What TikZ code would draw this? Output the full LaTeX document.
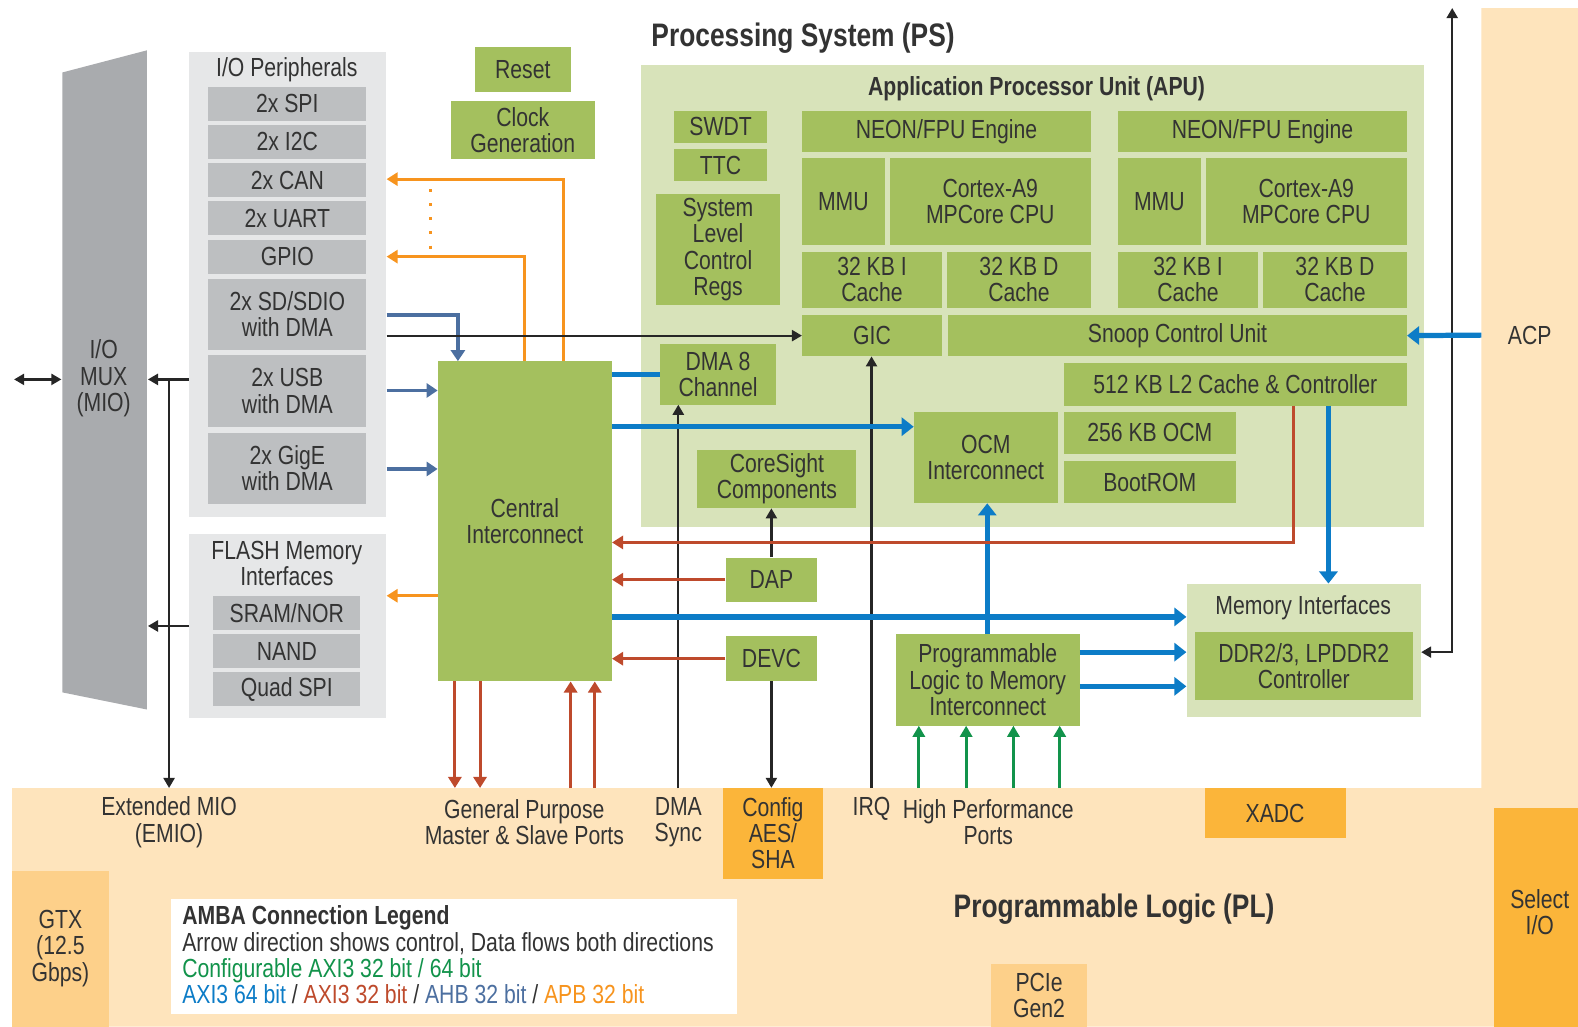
\documentclass[tikz,border=0pt]{standalone}
\usepackage{fontspec}
\setmainfont{Liberation Sans}[FakeStretch=0.81]
\usetikzlibrary{arrows.meta}
\definecolor{grn}{HTML}{A4C05E}
\definecolor{apubg}{HTML}{D8E3BA}
\definecolor{plbg}{HTML}{FEE4BC}
\definecolor{orS}{HTML}{FBB53A}
\definecolor{orL}{HTML}{FDD08A}
\definecolor{gryL}{HTML}{E6E7E8}
\definecolor{gryD}{HTML}{BDBFC1}
\definecolor{muxc}{HTML}{A9ABAE}
\definecolor{txt}{HTML}{333333}
\definecolor{axiB}{HTML}{0C7CC7}
\definecolor{axiR}{HTML}{BE4A2C}
\definecolor{ahb}{HTML}{4C6FA0}
\definecolor{apb}{HTML}{F7941E}
\definecolor{hpg}{HTML}{12934B}
\newcommand{\bodyfont}{\fontsize{37}{37}\selectfont}
\newcommand{\legfont}{\fontsize{37}{37}\selectfont}
\newcommand{\bigtitle}{\fontsize{46}{48}\selectfont\bfseries}
\newcommand{\midtitle}{\fontsize{37}{37}\selectfont\bfseries}
% \bx{style}{name}{x1}{y1}{x2}{y2}{text}
\newcommand{\bx}[7]{\node[#1,minimum width={(#5-#3)*0.5mm},minimum height={(#6-#4)*0.5mm}] (#2) at ({(#3+#5)/2},{(#4+#6)/2}) {#7};}
\begin{document}
\begin{tikzpicture}[x=0.5mm,y=-0.5mm,
  every node/.style={inner sep=0pt,text=txt,font=\bodyfont,align=center},
  gbox/.style={fill=grn},
  dbox/.style={fill=gryD},
  blu/.style={draw=axiB,line width=2.6mm,-{Triangle[length=6mm,width=9mm]}},
  blk/.style={draw=black!85,line width=1.1mm,-{Triangle[length=5mm,width=5.5mm]}},
  rd/.style={draw=axiR,line width=1.5mm,-{Triangle[length=5.5mm,width=6.5mm]}},
  ahbA/.style={draw=ahb,line width=1.7mm,-{Triangle[length=5.5mm,width=7mm]}},
  apbA/.style={draw=apb,line width=1.4mm,-{Triangle[length=5.5mm,width=6.5mm]}},
  hpA/.style={draw=hpg,line width=1.4mm,-{Triangle[length=5.5mm,width=6mm]}},
]
\useasboundingbox (0,0) rectangle (1568,1020);
% PL background
\fill[plbg] (12,783) -- (1472,783) -- (1472,8) -- (1568,8) -- (1568,1020) -- (12,1020) -- cycle;
\coordinate (pledge) at (0,783);
% titles
\node[font=\bigtitle] (pstitle) at (798,38) {Processing System (PS)};
\node[font=\bigtitle] (pltitle) at (1107,903) {Programmable Logic (PL)};
% I/O MUX
\fill[muxc] (62,72) -- (146,50) -- (146,705) -- (62,688) -- cycle;
\node (muxt) at (103,376) {I/O\\MUX\\(MIO)};
\coordinate (muxW) at (61,377);
\coordinate (muxE) at (147,377);
\coordinate (muxE2) at (147,622);
\coordinate (extL) at (14,377);
% I/O peripherals
\bx{fill=gryL}{iop}{188}{52}{384}{514}{}
\node (ioptitle) at (285,69) {I/O Peripherals};
\bx{dbox}{spi}{207}{86}{364}{120}{2x SPI}
\bx{dbox}{i2c}{207}{124}{364}{158}{2x I2C}
\bx{dbox}{can}{207}{162}{364}{196}{2x CAN}
\bx{dbox}{uart}{207}{200}{364}{234}{2x UART}
\bx{dbox}{gpio}{207}{238}{364}{272}{GPIO}
\bx{dbox}{sd}{207}{277}{364}{348}{2x SD/SDIO\\with DMA}
\bx{dbox}{usb}{207}{353}{364}{424}{2x USB\\with DMA}
\bx{dbox}{gige}{207}{430}{364}{501}{2x GigE\\with DMA}
% Flash
\bx{fill=gryL}{flash}{188}{531}{384}{713}{}
\node (flasht) at (285,560) {FLASH Memory\\Interfaces};
\bx{dbox}{sram}{212}{592}{358}{626}{SRAM/NOR}
\bx{dbox}{nand}{212}{630}{358}{664}{NAND}
\bx{dbox}{qspi}{212}{668}{358}{702}{Quad SPI}
% Reset / clock
\bx{gbox}{reset}{472}{47}{567}{91}{Reset}
\bx{gbox}{clk}{448}{100}{591}{158}{Clock\\Generation}
% APU
\bx{fill=apubg}{apu}{637}{65}{1415}{524}{}
\node[font=\midtitle] (aputitle) at (1030,88) {Application Processor Unit (APU)};
\bx{gbox}{swdt}{670}{110}{762}{142}{SWDT}
\bx{gbox}{ttc}{670}{148}{762}{180}{TTC}
\bx{gbox}{slcr}{652}{193}{775}{303}{System\\Level\\Control\\Regs}
\bx{gbox}{neon0}{797}{110}{1084}{151}{NEON/FPU Engine}
\bx{gbox}{mmu0}{797}{157}{879}{243}{MMU}
\bx{gbox}{cpu0}{884}{157}{1084}{243}{Cortex-A9\\MPCore CPU}
\bx{gbox}{ic0}{797}{250}{936}{306}{32 KB I\\Cache}
\bx{gbox}{dc0}{941}{250}{1084}{306}{32 KB D\\Cache}
\bx{gbox}{neon1}{1111}{110}{1398}{151}{NEON/FPU Engine}
\bx{gbox}{mmu1}{1111}{157}{1193}{243}{MMU}
\bx{gbox}{cpu1}{1198}{157}{1398}{243}{Cortex-A9\\MPCore CPU}
\bx{gbox}{ic1}{1111}{250}{1250}{306}{32 KB I\\Cache}
\bx{gbox}{dc1}{1255}{250}{1398}{306}{32 KB D\\Cache}
\bx{gbox}{gic}{797}{313}{936}{354}{GIC}
\bx{gbox}{scu}{942}{313}{1398}{354}{Snoop Control Unit}
\bx{gbox}{l2}{1057}{361}{1398}{403}{512 KB L2 Cache \& Controller}
\bx{gbox}{ocmi}{908}{409}{1051}{500}{OCM\\Interconnect}
\bx{gbox}{ocm}{1057}{409}{1228}{451}{256 KB OCM}
\bx{gbox}{brom}{1057}{458}{1228}{500}{BootROM}
\bx{gbox}{dma}{656}{342}{771}{402}{DMA 8\\Channel}
\bx{gbox}{cs}{693}{447}{851}{505}{CoreSight\\Components}
% Central interconnect etc.
\bx{gbox}{ci}{435}{359}{608}{677}{Central\\Interconnect}
\bx{gbox}{dap}{721}{554}{812}{598}{DAP}
\bx{gbox}{devc}{721}{632}{812}{677}{DEVC}
\bx{gbox}{plm}{890}{630}{1073}{721}{Programmable\\Logic to Memory\\Interconnect}
\bx{fill=apubg}{memi}{1179}{580}{1412}{712}{}
\node (memit) at (1295,604) {Memory Interfaces};
\bx{gbox}{ddr}{1187}{628}{1404}{696}{DDR2/3, LPDDR2\\Controller}
% PL blocks
\bx{fill=orL}{gtx}{12}{865}{108}{1020}{GTX\\(12.5\\Gbps)}
\bx{fill=orS}{cfg}{718}{783}{818}{873}{Config\\AES/\\SHA}
\bx{fill=orS}{xadc}{1197}{783}{1337}{833}{XADC}
\bx{fill=orS}{sio}{1485}{803}{1568}{1020}{}
\node (siot) at (1530,906) {Select\\I/O};
\bx{fill=orL}{pcie}{985}{958}{1080}{1020}{PCIe\\Gen2}
% labels
\node (emio) at (168,817) {Extended MIO\\(EMIO)};
\node (gpl) at (521,817) {General Purpose\\Master \& Slave Ports};
\node (dmas) at (674,817) {DMA\\Sync};
\node (irq) at (866,804) {IRQ};
\node (hpp) at (982,817) {High Performance\\Ports};
\node (acp) at (1520,333) {ACP};
\coordinate (acpP) at (1472,333);
\coordinate (topArr) at (1443,8);
% legend
\bx{fill=white}{leg}{170}{893}{732}{1008}{}
\node[anchor=north west,align=left,font=\legfont] (legt) at (181,900) {\textbf{AMBA Connection Legend}\\
Arrow direction shows control, Data flows both directions\\
\textcolor{hpg}{Configurable AXI3 32 bit / 64 bit}\\
\textcolor{axiB}{AXI3 64 bit} / \textcolor{axiR}{AXI3 32 bit} / \textcolor{ahb}{AHB 32 bit} / \textcolor{apb}{APB 32 bit}};
% ---- connectors ----
% APB (orange)
\draw[apbA] (ci.north -| 560,0) |- (iop.east |- 0,178);
\draw[apbA] (ci.north -| 521,0) |- (iop.east |- 0,255);
\draw[apb,line width=1.4mm,dash pattern=on 1.5mm off 5.5mm] (428,188) -- (428,250);
\draw[apbA] (ci.west |- 0,592) -- (flash.east |- 0,592);
% AHB
\draw[ahbA] (iop.east |- 0,313) -| (ci.north -| 455,0);
\draw[ahbA] (iop.east |- 0,388) -- (ci.west |- 0,388);
\draw[ahbA] (iop.east |- 0,466) -- (ci.west |- 0,466);
% black
\draw[blk,{Triangle[length=5mm,width=5.5mm]}-{Triangle[length=5mm,width=5.5mm]}] (extL) -- (muxW);
\draw[blk] (iop.west |- muxE) -- (muxE);
\draw[blk] (muxE -| 168,0) -- (pledge -| 168,0);
\draw[blk] (flash.west |- muxE2) -- (muxE2);
\draw[blk] (iop.east |- gic.west) -- (gic.west);
\draw[blk] (pledge -| 674,0) -- (dma.south -| 674,0);
\draw[blk] (dap.north) -- (cs.south -| dap.north);
\draw[blk] (devc.south) -- (devc.south |- cfg.north);
\draw[blk] (pledge -| 866,0) -- (gic.south -| 866,0);
\draw[blk,{Triangle[length=5mm,width=5.5mm]}-{Triangle[length=5mm,width=5.5mm]}] (topArr) -- (1443,648) -- (memi.east |- 0,648);
% AXI3 64 (blue)
\draw[blu,-] (ci.east |- dma.west) -- (dma.west);
\draw[blu] (ci.east |- 0,424) -- (ocmi.west |- 0,424);
\draw[blu] (ci.east |- 0,613) -- (memi.west |- 0,613);
\draw[blu] (plm.north -| 981,0) -- (ocmi.south -| 981,0);
\draw[blu] (plm.east |- 0,648) -- (memi.west |- 0,648);
\draw[blu] (plm.east |- 0,682) -- (memi.west |- 0,682);
\draw[blu] (l2.south -| 1320,0) -- (memi.north -| 1320,0);
\draw[blu] (acpP) -- (scu.east);
% AXI3 32 (red)
\draw[rd] (l2.south -| 1285,0) |- (ci.east |- 0,539);
\draw[rd] (dap.west) -- (ci.east |- dap.west);
\draw[rd] (devc.west) -- (ci.east |- devc.west);
\draw[rd] (ci.south -| 452,0) -- (pledge -| 452,0);
\draw[rd] (ci.south -| 477,0) -- (pledge -| 477,0);
\draw[rd] (pledge -| 567,0) -- (ci.south -| 567,0);
\draw[rd] (pledge -| 591,0) -- (ci.south -| 591,0);
% HP ports (green)
\draw[hpA] (pledge -| 913,0) -- (plm.south -| 913,0);
\draw[hpA] (pledge -| 960,0) -- (plm.south -| 960,0);
\draw[hpA] (pledge -| 1007,0) -- (plm.south -| 1007,0);
\draw[hpA] (pledge -| 1053,0) -- (plm.south -| 1053,0);
\end{tikzpicture}
\end{document}
